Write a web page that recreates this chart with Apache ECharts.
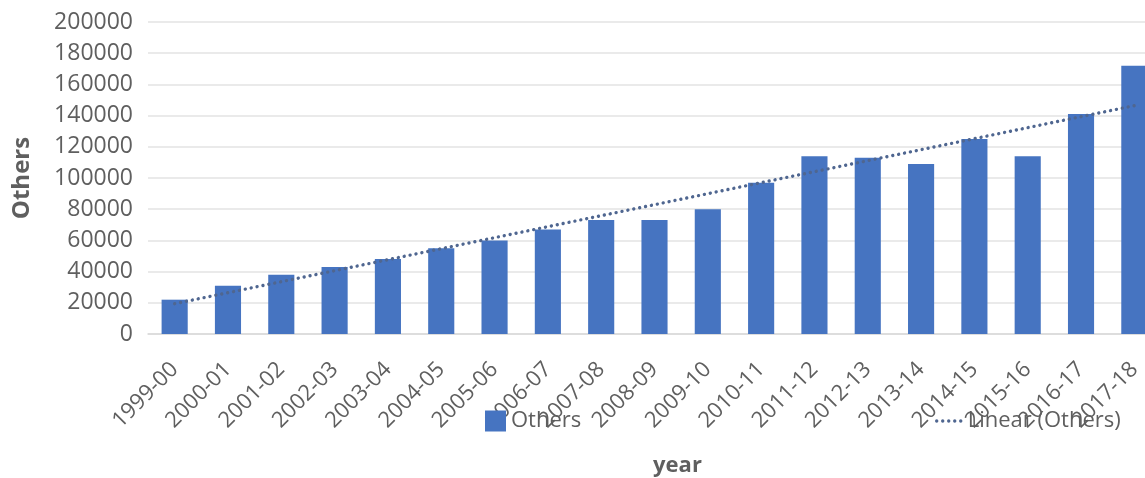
<!DOCTYPE html>
<html>
<head>
<meta charset="utf-8">
<script src="https://cdn.jsdelivr.net/npm/echarts@6/dist/echarts.min.js"></script>
<style>
  html, body { margin: 0; padding: 0; background: #ffffff; }
  #chart { width: 1145px; height: 478px; }
</style>
</head>
<body>
<div id="chart"></div>
<script>
// Academic years on the category axis
const years = ['1999-00', '2000-01', '2001-02', '2002-03', '2003-04', '2004-05', '2005-06',
  '2006-07', '2007-08', '2008-09', '2009-10', '2010-11', '2011-12', '2012-13', '2013-14',
  '2014-15', '2015-16', '2016-17', '2017-18'];

// Yearly totals for "Others"
const others = [22000, 31000, 38000, 43000, 48000, 55000, 60000, 67000, 73000, 73000,
  80000, 97000, 114000, 113000, 109000, 125000, 114000, 141000, 172000];

// Value axis range
const yMin = 0;
const yMax = 200000;
const yStep = 20000;

// Least-squares linear trend over the category index (1..n)
function linearTrend(values) {
  const n = values.length;
  let sx = 0, sy = 0, sxx = 0, sxy = 0;
  values.forEach((v, i) => {
    const x = i + 1;
    sx += x; sy += v; sxx += x * x; sxy += x * v;
  });
  const slope = (n * sxy - sx * sy) / (n * sxx - sx * sx);
  const intercept = (sy - slope * sx) / n;
  return values.map((_, i) => intercept + slope * (i + 1));
}
const trend = linearTrend(others);

const font = '"Open Sans", "Liberation Sans", sans-serif';
const textGray = '#5f5f5f';
const trendColor = '#4f6690';
const dotted = { color: trendColor, width: 3.4, type: [0.01, 6], cap: 'round' };

const chart = echarts.init(document.getElementById('chart'), null, { renderer: 'canvas' });
chart.setOption({
  animation: false,
  backgroundColor: '#ffffff',
  textStyle: { fontFamily: font },
  // plot area runs slightly past the right edge of the canvas
  grid: { left: 148, top: 22, bottom: 144, right: -16, containLabel: false, outerBoundsMode: 'none' },
  legend: [
    {
      data: ['Others'],
      left: 480, top: 405,
      itemWidth: 21, itemHeight: 21, itemGap: 6,
      icon: 'rect',
      textStyle: { fontFamily: font, fontSize: 22, color: textGray }
    },
    {
      data: ['Linear (Others)'],
      left: 930, top: 405,
      itemWidth: 26, itemHeight: 21, itemGap: 4,
      itemStyle: { opacity: 0 },
      lineStyle: dotted,
      textStyle: { fontFamily: font, fontSize: 22, color: textGray }
    }
  ],
  xAxis: {
    type: 'category',
    data: years,
    name: 'year',
    nameLocation: 'middle',
    nameGap: 121,
    nameTextStyle: { fontFamily: font, fontSize: 22, fontWeight: 'bold', color: textGray, padding: [0, 0, 0, 46] },
    axisLine: { show: true, lineStyle: { color: '#d9d9d9', width: 1.5 } },
    axisTick: { show: false },
    axisLabel: {
      interval: 0, rotate: 45, margin: 32,
      fontFamily: font, fontSize: 22, color: textGray
    }
  },
  yAxis: {
    type: 'value',
    min: yMin, max: yMax, interval: yStep,
    name: 'Others',
    nameLocation: 'middle',
    nameGap: 114,
    nameRotate: 90,
    nameTextStyle: { fontFamily: font, fontSize: 24, fontWeight: 'bold', color: textGray },
    axisLine: { show: false },
    axisTick: { show: false },
    axisLabel: {
      margin: 15, fontFamily: font, fontSize: 23, color: textGray,
      formatter: (v) => String(v)
    },
    splitLine: { show: true, lineStyle: { color: '#e3e3e3', width: 1.5 } }
  },
  series: [
    {
      name: 'Others',
      type: 'bar',
      data: others,
      barCategoryGap: '51%',
      itemStyle: { color: '#4674c1' },
      z: 2
    },
    {
      name: 'Linear (Others)',
      type: 'line',
      data: trend,
      symbol: 'none',
      lineStyle: dotted,
      itemStyle: { color: trendColor },
      z: 3
    }
  ]
});
</script>
</body>
</html>
